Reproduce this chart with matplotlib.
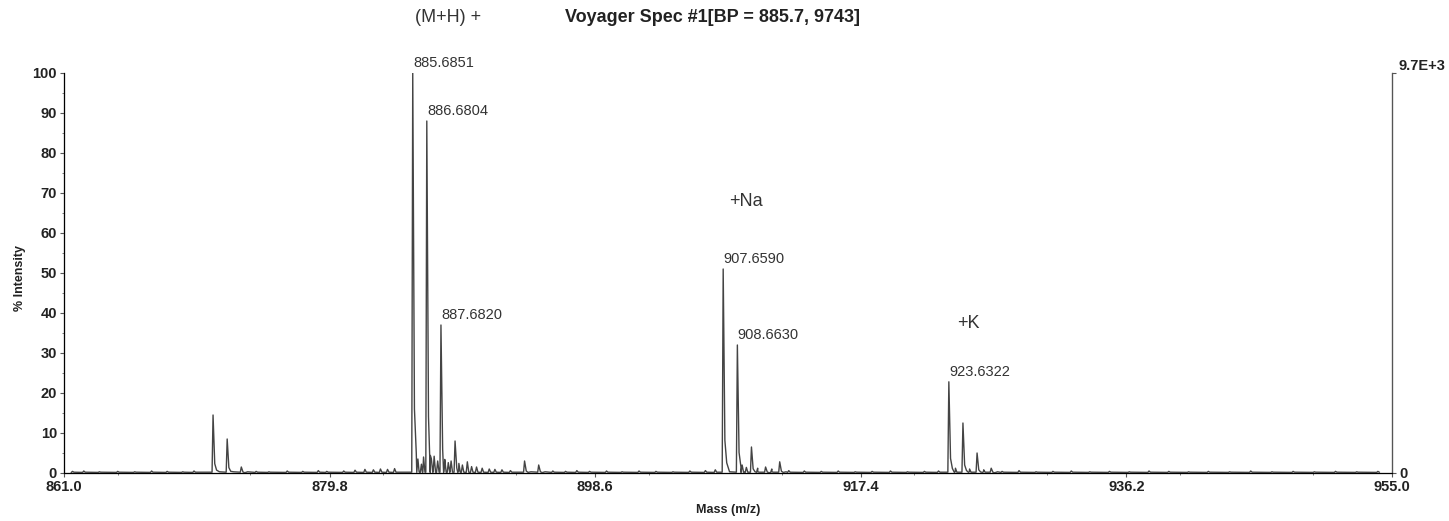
import numpy as np
import matplotlib
matplotlib.use('Agg')
import matplotlib.pyplot as plt
from matplotlib.ticker import MultipleLocator, FixedLocator

plt.rcParams['font.family'] = ['Liberation Sans', 'DejaVu Sans']

# Peaks: m/z and % intensity
peak_mz = [871.55, 872.55, 873.55, 885.685, 886.680, 887.682, 888.68, 893.60, 894.60,
           907.659, 908.663, 909.66, 910.66, 911.66, 923.632, 924.63, 925.63, 926.63]
peak_int = [14.5, 8.5, 1.5, 100.0, 88.0, 37.0, 8.0, 3.0, 2.0,
            51.0, 32.0, 6.5, 1.5, 2.8, 22.8, 12.5, 5.0, 1.2]

# small noise bumps (m/z, % intensity)
noise_mz = [861.6, 862.4, 863.5, 864.8, 866.0, 867.2, 868.3, 869.4, 870.2, 874.6, 875.5,
            876.8, 877.9, 879.0, 879.6, 880.8, 881.6, 882.3, 882.9, 883.4, 883.9, 884.4,
            886.05, 886.3, 886.45, 887.0, 887.2, 887.45, 887.95, 888.2, 888.4, 888.95,
            889.2, 889.55, 889.85, 890.2, 890.6, 891.1, 891.5, 892.0, 892.6, 895.6, 896.5,
            897.3, 898.2, 899.4, 900.5, 901.7, 902.9, 904.1, 905.3, 906.4, 907.1, 909.0,
            909.3, 910.1, 911.1, 912.3, 913.4, 914.6, 915.8, 917.0, 918.2, 919.5, 920.7,
            921.9, 922.9, 924.1, 925.1, 926.1, 927.4, 928.6, 929.8, 931.0, 932.3, 933.6,
            935.0, 936.4, 937.8, 939.2, 940.6, 942.0, 943.5, 945.0, 946.5, 948.0, 949.5,
            951.0, 952.5, 954.0]
noise_int = [0.4, 0.5, 0.3, 0.4, 0.3, 0.5, 0.4, 0.3, 0.5, 0.4, 0.3,
             0.5, 0.4, 0.6, 0.4, 0.5, 0.7, 0.9, 0.8, 1.0, 0.9, 1.1,
             3.5, 2.2, 4.0, 3.6, 4.2, 3.0, 3.4, 2.6, 3.0, 2.4,
             2.0, 2.8, 1.6, 1.5, 1.2, 1.0, 0.9, 0.8, 0.6, 0.5, 0.4,
             0.6, 0.4, 0.5, 0.3, 0.5, 0.4, 0.3, 0.5, 0.6, 0.8, 2.0,
             1.4, 1.2, 1.0, 0.6, 0.5, 0.4, 0.5, 0.3, 0.4, 0.5, 0.3,
             0.4, 0.5, 1.2, 1.0, 0.8, 0.4, 0.6, 0.3, 0.4, 0.5, 0.3,
             0.4, 0.3, 0.5, 0.4, 0.3, 0.4, 0.3, 0.5, 0.3, 0.4, 0.3,
             0.4, 0.3, 0.4]

label_mz = [885.6851, 886.6804, 887.6820, 907.6590, 908.6630, 923.6322]
label_int = [100.0, 88.0, 37.0, 51.0, 32.0, 22.8]

xticks = [861.0, 879.8, 898.6, 917.4, 936.2, 955.0]
base_peak_counts = 9743

# build a profile line: each peak gets a sharp rise and a tailing fall
xs, ys = [], []
for mz, h in zip(peak_mz, peak_int):
    xs += [mz - 0.07, mz, mz + 0.12, mz + 0.25, mz + 0.45]
    ys += [0.2, h, h * 0.16, h * 0.05, 0.3]
for mz, h in zip(noise_mz, noise_int):
    xs += [mz - 0.08, mz, mz + 0.1]
    ys += [0.15, h, 0.2]
order = np.argsort(xs)
xs = np.array(xs)[order]
ys = np.array(ys)[order]

fig = plt.figure(figsize=(14.49, 5.21), dpi=100)
ax = fig.add_axes([64 / 1449, 48 / 521, 1328 / 1449, 400 / 521])

ax.plot(xs, ys, color='#444444', linewidth=1.0)

ax.set_xlim(861.0, 955.0)
ax.set_ylim(0, 100)
ax.spines['top'].set_visible(False)
for s in ['left', 'bottom', 'right']:
    ax.spines[s].set_color('#555555')
    ax.spines[s].set_linewidth(0.9)

ax.xaxis.set_major_locator(FixedLocator(xticks))
ax.set_xticklabels([f'{t:.1f}' for t in xticks])
ax.xaxis.set_minor_locator(MultipleLocator(9.4))
ax.yaxis.set_major_locator(MultipleLocator(10))
ax.yaxis.set_minor_locator(MultipleLocator(5))
ax.tick_params(axis='both', which='major', direction='out', length=3, width=0.8,
               color='#555555', labelsize=10.5, labelcolor='#222222')
ax.tick_params(axis='both', which='minor', direction='out', length=1.5, width=0.7,
               color='#777777')
for lab in ax.get_xticklabels() + ax.get_yticklabels():
    lab.set_fontweight('bold')
ax.tick_params(axis='x', pad=2)
ax.tick_params(axis='y', pad=2)

# axis titles
fig.text(728 / 1449, 1 - 510 / 521, 'Mass (m/z)', fontsize=9, fontweight='bold',
         color='#222222', ha='center', va='center')
fig.text(20 / 1449, 1 - 278 / 521, '% Intensity', fontsize=9, fontweight='bold',
         color='#222222', ha='center', va='center', rotation=90)

# right axis in counts
ax2 = ax.twinx()
ax2.set_ylim(0, base_peak_counts)
ax2.set_yticks([0, base_peak_counts])
ax2.set_yticklabels(['0', '9.7E+3'])
ax2.spines['top'].set_visible(False)
ax2.spines['right'].set_color('#555555')
ax2.tick_params(axis='y', direction='out', length=3, width=0.8, color='#555555',
                labelsize=10.5, labelcolor='#222222', pad=2)
for lab in ax2.get_yticklabels():
    lab.set_fontweight('bold')
ax2.get_yticklabels()[1].set_verticalalignment('bottom')

# peak labels
for mz, h in zip(label_mz, label_int):
    ax.text(mz + 0.02, h + 0.7, f'{mz:.4f}', fontsize=10.5, color='#333333',
            ha='left', va='bottom')

ax.text(908.1, 68, '+Na', fontsize=13, color='#333333', ha='left', va='center')
ax.text(924.2, 37.5, '+K', fontsize=13, color='#333333', ha='left', va='center')

fig.text(415 / 1449, 1 - 18 / 521, '(M+H) +', fontsize=13, color='#333333',
         ha='left', va='center')
fig.text(565 / 1449, 1 - 18 / 521, 'Voyager Spec #1[BP = 885.7, 9743]', fontsize=13,
         fontweight='bold', color='#222222', ha='left', va='center')

fig.savefig('out.png', dpi=100)
